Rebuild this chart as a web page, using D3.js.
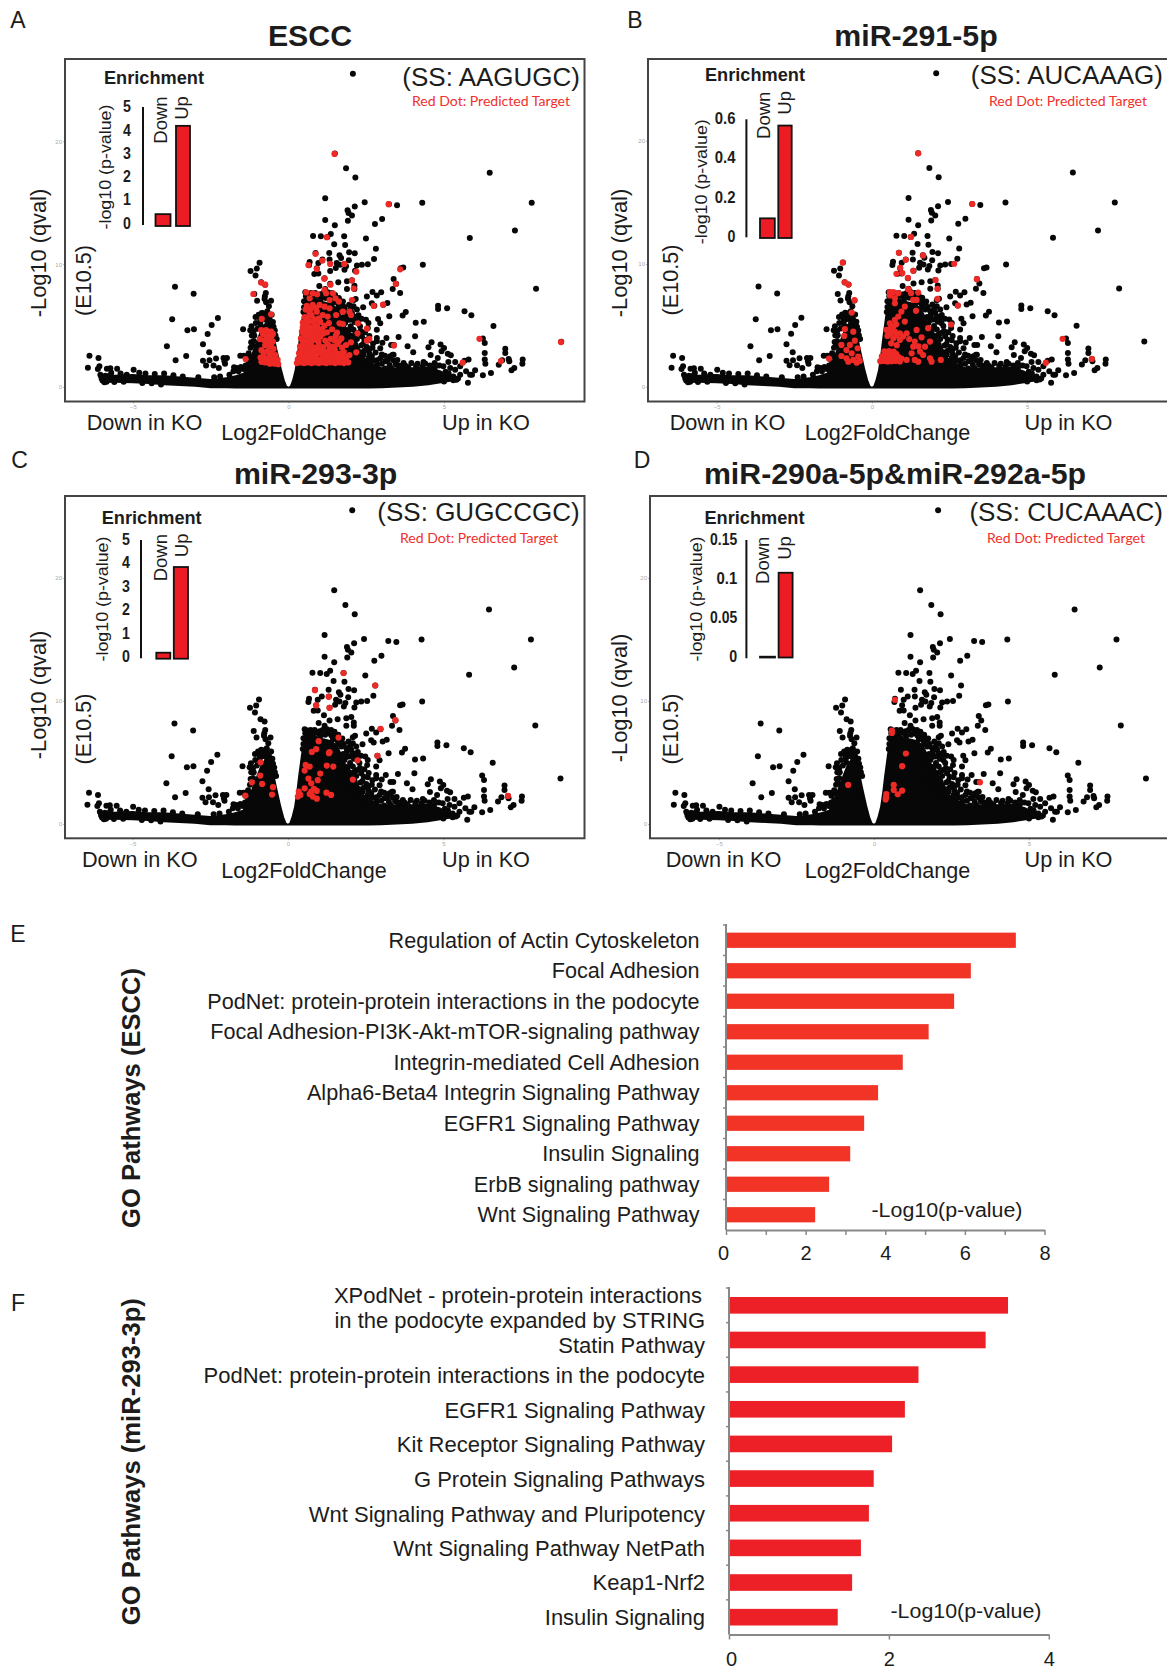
<!DOCTYPE html>
<html>
<head>
<meta charset="utf-8">
<script src="https://cdn.jsdelivr.net/npm/d3@7/dist/d3.min.js"></script>
<style>
body { margin: 0; background: #fff; }
text { font-family: "Liberation Sans", Arial, sans-serif; fill: #1c1c1c; }
</style>
</head>
<body>
<svg id="fig" width="1167" height="1670"></svg>
<script>
// dense part of the volcano (shared by the 4 panels)
var massLfc = [-6.1,-5.9,-5.6,-5,-4.5,-4,-3.5,-3,-2.5,-2,-1.7,-1.45,-1.3,-1.15,-1,-.86,-.7,-.55,-.45,-.37,-.3,-.22,-.12,-.05,0,.05,.12,.2,.27,.33,.42,.5,.62,.9,1.1,1.4,1.6,1.75,1.9,2.1,2.3,2.6,3,3.5,4,4.5,4.9,5.2,5.4];
var massTop = [.95,1.15,1,1.05,.95,.95,.85,.75,.65,.8,.95,1.15,1.9,3,4,4.9,5.4,5.3,4.2,3.2,2.4,1.5,.55,.1,.02,.1,.6,1.4,2.6,3.9,5.6,6.9,7.3,7.2,7,6.8,6.4,5.6,4.6,3.4,2.7,2.1,1.6,1.6,1.6,1.65,1.35,.9,.6];
var massBot = [.55,.32,.35,.3,.25,.15,.08,.03,-.1,-.1,-.12,-.12,-.12,-.12,-.12,-.12,-.12,-.12,-.12,-.12,-.12,-.12,-.12,-.12,-.12,-.12,-.12,-.12,-.12,-.12,-.12,-.12,-.12,-.12,-.12,-.12,-.12,-.12,-.12,-.12,-.12,-.12,-.1,-.05,.03,.15,.3,.42,.5];

// single genes, [log2 fold change, -log10 q]
var genes = [
[2.07,25.5],[1.49,19],[1.85,17.8],[2.15,17.05],[1.18,15.36],[2.45,15.04],[3.23,14.87],[3.49,14.79],[4.3,15],[2.13,14.69],[1.9,14.39],[1.93,14.17],[2.04,13.95],[1.18,13.6],[1.91,13.54],[1.49,13.16],[2.78,13.27],[3.01,13.68],
[.79,12.3],[1.04,12.27],[1.25,12.2],[1.36,12.46],[1.79,12.27],[2.49,12.08],[1.47,11.62],[1.82,11.56],[2.81,11.26],[.87,10.91],[1.31,10.91],[1.95,10.97],[2.13,10.88],[1.64,10.72],[1.69,10.5],[2.75,10.42],[1.09,10.37],[.96,10.1],[.68,10.18],[.66,9.91],[1.32,10.37],[1.94,10.31],[1.55,10.1],[1.66,9.96],[1.52,9.69],[.91,9.66],[1.34,9.45],[1.85,9.83],[1.8,9.55],[2.2,9.88],[2.36,9.96],[2.55,9.99],[2.14,9.47],[3.61,9.66],[3.69,9.72],
[.83,9.2],[.96,9.23],[1.16,8.85],[3.38,8.79],[3.46,8.41],[3.35,7.98],[3.59,7.65],[.99,8.22],[1.6,8.52],[1.34,8.41],[1.88,8.6],[2.04,8.69],[2.12,8.25],[1.88,7.98],[2.12,7.98],[2.7,7.74],[2.98,7.71],[2.52,7.36],[2.84,7.44],[1.63,7.03],[2.09,7.06],[2.16,7.17],[2.68,6.81],[2.76,6.62],[3.05,6.7],[3.18,6.84],[2.4,6.49],[2.09,6.57],
[2.88,5.54],[2.49,5.48],[3.24,5.75],[3.67,5.81],[3.77,6.11],[4.09,5.24],[4.35,5.32],[2.95,5.18],[2.24,5.18],[2.57,5.21],[2.55,4.8],[2.84,4.67],[3.54,4.07],[4.07,4.13],[2.23,4.4],[2.36,4.13],[2.57,3.8],[2.84,3.99],[2.84,3.72],[3.02,3.61],[3.3,3.42],[2.09,3.64],[2.34,3.37],[3.83,3.31],[4.01,2.82],[2.59,3.04],[2.68,2.5],[2.84,2.17],[3.35,2.63],[3.27,2.5],[3.11,2.09],
[.54,7.71],[.62,7.6],[.73,7.65],[.86,7.65],[.56,7.38],[.66,7.25],[.8,7.25],[.5,6.98],[1.18,7.98],[1.26,7.71],[1.39,7.65],[1.5,7.49],[1.31,7.38],[1.55,7.11],[1.71,6.84],[1.8,6.51],[1.88,6.16],[2.04,6.03],[2.09,5.75],[1.98,5.48],[1.82,5.21],[1.71,4.94],[1.84,4.67],[2.09,4.67],[2.04,4.13],[1.88,3.72],[1.98,3.31],[2.2,3.18],[2.14,2.77],[2.41,2.63],[2.57,2.36],[2.3,2.23],[2.47,1.95],
[1.95,6.7],[2,6.35],[1.72,6.3],[1.62,6.5],[1.9,5.85],[1.78,5.7],[1.68,5.55],[1.88,5.45],[2.2,6.3],[2.25,5.85],[2.35,5.55],[2.18,5.5],[2.12,5.3],[2.3,4.95],[2,4.95],[1.92,4.6],[1.76,4.4],[1.95,4.25],[2.14,4.25],[2.32,4.55],[2.46,4.45],[2.6,4.15],[2.44,3.85],[2.2,3.9],[2.05,3.75],[1.8,3.9],[1.72,3.6],[1.85,3.35],[2.15,3.45],[2.4,3.5],[2.52,3.25],[2.72,3.55],[2.7,3.2],[2.95,3.15],[1.78,3.1],[1.92,2.95],[2.04,2.6],[2.28,2.85],[2.44,2.95],[2.6,2.7],[2.8,2.8],[3,2.65],[2.2,2.45],[2.36,2.3],[2.72,2.15],[2.95,2.35],[3.1,2.55],[3.2,2.2],[3.38,2.15],[3.5,2.2],[2.6,1.95],[2.85,1.85],[3,1.9],[3.25,1.8],[3.45,1.85],[3.7,1.95],[3.95,1.95],[4.15,1.9],[3.75,1.75],[4.4,1.9],[4.7,1.95],[4.85,1.75],
[1.4,7.2],[1.62,7.25],[1.75,6.95],[1.45,6.9],[1.6,6.75],[1.2,7.25],[1.05,7.2],[.95,7.4],[.7,7.45],[1.02,7.55],[1.12,7.65],[1.45,7.3],[.5,6.5],[.48,6.1],
[6.47,17.43],[7.82,15],[7.28,12.73],[5.83,12.13],[4.32,9.96],[7.96,8],[4.81,6.62],[4.81,6.35],[5.1,6.41],[5.66,6.16],[5.88,5.84],[6.59,4.97],[8.77,3.69],[6.25,3.94],[6.31,3.58],[6.31,2.77],[6.31,2.23],[6.33,1.9],[6.97,3.12],[6.97,2.77],[6.87,2.17],[7.08,2.28],[6.76,1.82],[7.1,2.09],[7.53,2.23],[7.52,1.9],[7.26,1.55],[7.17,1.36],[6.51,1.14],[6.25,.95],[5.77,.35],[6,1.36],[5.9,1],
[3.15,3.99],[3.39,3.42],[4.6,3.64],[4.5,3.23],[4.89,3.45],[5,3.18],[4.92,2.9],[4.57,2.6],[4.8,2.36],[5.12,2.71],[5.22,2.58],[4.34,2.04],[3.38,2.63],[3.54,1.76],[5.14,2.04],[5.36,2.04],[5.66,2.14],[5.79,2.23],[4.98,1.68],[5.2,1.55],[5.52,1.68],[5.36,1.41],[5.71,1.28],[5.84,1],[5.52,1],[5.4,.6],[5.22,.73],
[-.93,10.12],[-1.02,9.64],[-1.22,9.45],[-1.06,9.07],[-.88,8.52],[-.75,8.33],[-1.1,7.57],[-.73,7.65],[-.76,7.38],[-.77,7.17],[-1.01,7.03],[-.56,7.03],[-.63,6.57],[-.68,6.16],[-.54,5.89],[-2.27,5.62],[-2.47,5.05],[-2.6,4.32],[-2.75,3.47],[-3.65,8.17],[-3.05,7.6],[-3.74,5.51],[-3.25,4.61],[-3.04,4.7],[-3.91,3.31],[-3.29,2.52],[-3.63,2.17],[-2.55,2.82],[-2.75,2.14],[-2.54,2.17],[-2.33,2.33],[-2.65,1.76],[-2.41,1.76],[-2.24,1.55],[-2.09,2.36],[-1.98,2.36],[-2.06,2.09],[-2.04,1.9],
[-6.4,2.55],[-6.11,2.36],[-6.45,1.57],[-6.08,1.68],[-6.13,1.47],[-5.84,1.49],[-5.73,1.52],[-5.51,1.49],[-4.98,1.41],[-6.05,1],[-5.95,.73],[-5.92,.38],[-1.46,4.7],[-1.19,4.94],[-1.23,4.61],[-1.06,5.7],[-.96,5.89],[-.86,6.03],[-1.55,2.55],[-1.43,2.55],[-1.29,2.58],[-1.37,2.3],[-1.75,1.6],[-1.66,1.55],[-1.53,1.63],[-1.45,1.47],[-1.77,1.28],[-1.61,1.28],[-2.39,.79],[-1.16,3.37],[-.89,3.91],[-.89,5],[-.83,3.23],[-.47,2.99],[-.51,2.36],
[-1.05,5.2],[-.9,5.35],[-.75,5.5],[-.6,5.45],[-.48,4.9],[-.42,4.2],[-1.1,4.2],[-1.22,3.2],[-1.18,4.2],[-1.12,4.55],[-1,4.75],[-.92,5.6],[-.8,5.75],[-.72,5.85],[-.62,5.7],[-.5,5.3],[-.44,4.6],[-.38,3.9],[-1.28,2.75],[-1.2,2.4],[-1.38,1.75],[-1.28,1.95],[-1.2,3.65],[-1.12,3.75],[-.66,5.2],[-.82,6],[-.72,6.9],
[-5.7,1.15],[-5.4,1.1],[-5.2,1],[-4.8,1.15],[-4.6,1.1],[-4.3,1.05],[-4,1.1],[-3.7,.95],[-3.4,.85],[-2.9,.8],[-2.2,.85],[-1.9,1],[-5.6,.4],[-5.3,.42],[-4.7,.32],[-6.02,.85],[-5.98,.52],[-5.85,.42],[-5.75,.9],[-4.4,.3],[-4.1,.2],
[2.75,1.6],[3.1,1.5],[3.3,1.55],[3.6,1.7],[3.85,1.6],[4.1,1.7],[4.3,1.65],[4.55,1.75],[4.7,1.55],[5.05,1.25],[5.15,1.1],[5.3,.85],[5.45,.7],[5,.45],[5.3,.55]
];

// predicted targets (red dots) of every panel
var redA = [
[1.48,18.97],[3.22,14.88],[1.23,12.19],[.87,10.83],[1.09,10.29],[.64,9.93],[.91,9.61],[1.34,10.02],[1.79,10.02],[2.18,9.39],[1.15,8.82],[1.35,8.33],[2.04,8.66],[2.1,8.01],[2.04,7.08],[3.59,9.58],[3.45,8.39],[2.74,6.6],[3.04,6.7],[2.23,5.18],[2.52,4.75],[2.22,4.37],[2.52,3.77],[2.6,3.91],[3.39,3.37],[2.18,2.82],[1.96,2.6],[1.85,3.42],[2.01,3.64],[1.8,2.47],
[-.88,8.5],[-.75,8.33],[-1.13,7.57],[-.56,5.92],[-.86,5.54],[-1.38,2.28],[-.88,4.64],[-.72,4.64],[-.56,4.5],[-.82,4.32],[-.63,4.23],[-.5,4.32],[-.92,3.9],[-.78,3.8],[-.64,3.85],[-.5,3.7],[-.75,3.4],[-.62,3.3],[-.48,3.1],[-.87,3],[-.68,2.9],[-.55,2.75],[-.42,2.6],[-.8,2.5],[-.62,2.3],[-.5,2.2],[-.35,2.2],[-.87,2.05],[-.75,2],[-.6,1.9],[-.45,1.9],[-.33,1.85],[-.7,4.1],[-.56,4.05],[-.7,3.6],[-.56,3.5],[-.8,2.8],[-.6,2.6],[-.72,2.3],[-.9,2.4],
[.57,7.7],[.78,7.63],[.92,7.55],[1.16,7.9],[1.21,7.63],[1.43,7.63],[1.51,7.22],[1.62,6.95],[1.32,7.08],[.68,7.22],[.59,6.6],[.78,6.68],[1,6.68],[1.16,6.54],[1.32,6.41],[.91,6.13],[.68,6],[1.1,5.86],[.98,5.59],[1.26,5.73],[1.53,5.86],[1.75,6.13],[1.96,6.13],[2.01,5.86],[1.64,5.18],[1.75,5.13],
[.52,5.7],[.62,5.65],[.74,5.85],[.85,5.5],[.55,6.3],[.72,6.35],[.88,6.45],
[.46,5.25],[.6,5],[.74,5.35],[.86,5.05],[1.02,5.3],[1.16,5],[1.3,5.2],[.43,4.5],[.55,4.75],[.68,4.45],[.82,4.7],[.94,4.4],[1.08,4.72],[1.24,4.45],[1.4,4.7],[1.56,4.42],
[.4,3.95],[.52,4.2],[.64,3.9],[.78,4.15],[.9,3.85],[1.02,4.1],[1.36,3.92],[1.52,4.18],[1.7,3.95],[.37,3.3],[.48,3.55],[.6,3.25],[.72,3.5],[.85,3.2],[.97,3.45],[1.12,3.25],[1.26,3.5],[1.42,3.28],[1.58,3.5],[1.72,3.2],
[.34,2.75],[.45,2.95],[.57,2.7],[.69,2.9],[.81,2.65],[.94,2.9],[1.06,2.7],[1.2,2.85],[1.34,2.65],[1.5,2.9],[1.64,2.7],[1.78,2.85],[.3,2.25],[.41,2.4],[.53,2.2],[.65,2.35],[.77,2.15],[.9,2.35],[1.02,2.2],[1.15,2.35],[1.28,2.15],[1.42,2.3],[1.57,2.2],[1.7,2.4],[1.85,2.2],
[.27,1.95],[.38,2],[.5,1.95],[.62,2],[.74,1.95],[.86,2],[.98,1.95],[1.12,2],[1.22,1.95],[1.36,2],[1.5,1.95],[1.64,2],[1.78,1.95],[1.92,2],
[.46,4.85],[.58,5.35],[.7,4.85],[.92,4.9],[.5,4.4],[.62,4.3],[.76,4.4],[.88,4.28],[1.0,4.5],[1.12,4.35],[.46,3.75],[.58,3.72],[.7,3.75],[.82,3.85],[.96,3.72],[1.18,3.78],[1.48,3.8],[1.62,3.72],
[.42,3.15],[.55,3],[.68,3.1],[.78,2.95],[.92,3.15],[1.05,3],[1.32,3.08],[1.48,3.12],[.4,2.55],[.52,2.5],[.64,2.62],[.75,2.45],[.88,2.6],[1.12,2.6],[1.24,2.52],[1.4,2.55],[1.55,2.5],[1.72,2.62],[.36,2.1],[.6,2.15],[.84,2.15],[1.08,2.15],[1.34,2.15],[1.62,2.2],
[5.6,1.98],[6.14,3.92],[6.83,2.11],[8.76,3.66]
];
var redB = [
[1.49,19],[3.23,14.88],[1.26,12.2],[.87,10.91],[1.09,10.34],[1.65,10.7],[2.65,10.02],[.91,9.69],[.79,9.2],[.98,9.26],[1.16,8.88],[1.33,9.45],[2.05,8.69],[2.11,7.98],[2.11,7.17],[3.38,8.77],[2.77,6.62],[2.55,5.08],[1.81,4.78],[1.42,6.19],
[-.94,10.12],[-.87,8.5],[-.76,8.33],[-.56,7.06],[-.65,6.05],[-1.38,2.31],[-.87,4.7],[-.6,4.5],[-.89,4.15],[-.55,3.77],[-.71,3.42],[-.98,3.42],[-.46,3.15],[-.82,3],[-.65,2.74],[-.98,2.52],[-.44,2.47],[-.82,2.33],[-.6,2.2],[-.39,2.12],[-.76,2.06],[-.49,1.98],
[.58,7.71],[.69,7.71],[.85,7.63],[.58,7.44],[.74,7.22],[.74,6.81],[1.17,7.95],[1.26,7.63],[1.49,7.68],[1.33,7.08],[1.44,7.08],[1.06,6.54],[.95,6.13],[.85,5.73],[.74,5.46],[.69,4.91],[1.06,5.32],[.58,5.18],[.58,4.64],[.47,4.64],[.74,4.5],[.9,4.37],[.5,4.15],[.69,3.96],[.9,3.83],[1.12,4.37],[1.44,4.64],[1.6,4.04],[1.87,3.69],[1.38,3.69],[1.71,3.28],[1.33,3.28],
[.4,2.9],[.55,2.92],[.7,2.88],[.32,2.5],[.45,2.52],[.58,2.48],[.72,2.5],[.85,2.46],[.27,2.1],[.38,2.12],[.5,2.08],[.62,2.1],[.75,2.12],[.9,2.08],[1.12,2.2],[1.28,2.74],[1.38,2.2],[1.55,2.88],[1.65,2.6],[1.87,2.33],[1.49,2.06],[1.92,2.06],[2.22,2.2],
[.48,2.75],[.62,2.72],[.78,2.7],[.38,2.32],[.52,2.3],[.66,2.32],[.8,2.28],[.95,2.3],[.6,4.3],[.8,4.2],[.62,4.85],[.78,5.1],[.62,3.55],[.8,3.4],[1.0,4.1],[1.2,3.9],[1.5,3.3],
[5.6,1.98],[6.14,3.92],[7.08,2.28]
];
var redC = [
[1.79,12.27],[2.81,11.26],[.87,10.88],[1.31,10.34],[.91,9.64],[1.34,9.45],[3.46,8.44],[2.98,7.74],[1.63,7.03],[.99,6.73],[.91,6.08],[.77,5.86],[1.34,5.84],[1.32,5.76],[2.24,5.18],[2.88,5.54],[.57,4.8],[.7,4.67],[.54,4.34],[1.25,4.75],[1.46,4.67],[1.04,4.1],[.66,3.69],[.96,3.56],[.75,3.31],[2.09,3.61],[.54,2.9],[.84,2.85],[.75,2.63],[.93,2.69],[.35,2.63],[.32,2.23],[.4,2.36],[.7,2.44],[.8,2.23],[.93,2.06],[1.24,2.55],[1.39,2.36],
[-.88,5.02],[-.89,3.94],[-1.16,3.39],[-.83,3.26],[-.48,2.99],[-.51,2.39],[-1.37,2.31],[7.08,2.28]
];
var redD = [[.68,10.1],[.58,7.6],[.58,7.4],[1.03,5.73],[.91,4.7],[.64,3.18],[.91,2.71],[.77,2.42],[.64,2.77],[.4,2.44],[.39,2.17],[.38,2],[3.42,3.39],[-.83,3.18]];

// inset bars
var enrichLabels = ["Down", "Up"];
var enrichA = [.38, 4.17];
var enrichB = [.09, .563];
var enrichC = [.17, 3.81];
var enrichD = [0, .107];

// pathway bars
var goEscc = ["Regulation of Actin Cytoskeleton","Focal Adhesion","PodNet: protein-protein interactions in the podocyte","Focal Adhesion-PI3K-Akt-mTOR-signaling pathway","Integrin-mediated Cell Adhesion","Alpha6-Beta4 Integrin Signaling Pathway","EGFR1 Signaling Pathway","Insulin Signaling","ErbB signaling pathway","Wnt Signaling Pathway"];
var goEsccVal = [7.28,6.15,5.73,5.09,4.44,3.82,3.47,3.12,2.59,2.24];
var goMir = ["XPodNet - protein-protein interactions","Statin Pathway","PodNet: protein-protein interactions in the podocyte","EGFR1 Signaling Pathway","Kit Receptor Signaling Pathway","G Protein Signaling Pathways","Wnt Signaling Pathway and Pluripotency","Wnt Signaling Pathway NetPath","Keap1-Nrf2","Insulin Signaling"];
var goMirVal = [3.49,3.21,2.37,2.2,2.04,1.81,1.75,1.65,1.54,1.36];

var svg = d3.select("#fig");
var RED = "#ee2a26";

function label(txt, x, y, size, opt) {
	opt = opt || {};
	var t = svg.append("text")
		.attr("x", x)
		.attr("y", y)
		.attr("dy", "0.35em")
		.attr("text-anchor", opt.anchor || "middle")
		.attr("font-size", size)
		.attr("font-weight", opt.bold ? "bold" : "normal")
		.text(txt);
	if (opt.rotate) t.attr("transform", "rotate(-90 " + x + " " + y + ")");
	if (opt.fill) t.style("fill", opt.fill);
	if (opt.family) t.style("font-family", opt.family);
	if (opt.len) t.attr("textLength", opt.len).attr("lengthAdjust", "spacingAndGlyphs");
	return t;
}

// one volcano panel
function volcano(p) {
	var x = d3.scaleLinear().domain([-5, 5]).range([p.xm5, p.xp5]);
	var y = d3.scaleLinear().domain([0, 20]).range([p.y0, p.y20]);
	var g = svg.append("g");

	var area = d3.area()
		.x(function(d) { return x(d); })
		.y0(function(d, i) { return y(massBot[i]); })
		.y1(function(d, i) { return y(massTop[i]); });
	g.append("path").attr("d", area(massLfc)).attr("fill", "#070707");

	g.append("g")
		.selectAll("circle")
		.data(genes)
		.enter()
		.append("circle")
		.attr("cx", function(d) { return x(d[0]); })
		.attr("cy", function(d) { return y(d[1]); })
		.attr("r", 3)
		.attr("fill", "#070707");

	g.append("g")
		.selectAll("circle")
		.data(p.red)
		.enter()
		.append("circle")
		.attr("cx", function(d) { return x(d[0]); })
		.attr("cy", function(d) { return y(d[1]); })
		.attr("r", 3.1)
		.attr("fill", RED);

	// tiny grey ticks of the original plot
	var ax = g.append("g")
		.attr("transform", "translate(0," + p.bottom + ")")
		.call(d3.axisBottom(x).tickValues([-5, 0, 5]).tickSize(2).tickPadding(1));
	var ay = g.append("g")
		.attr("transform", "translate(" + p.left + ",0)")
		.call(d3.axisLeft(y).tickValues([0, 10, 20]).tickSize(2).tickPadding(1));
	[ax, ay].forEach(function(a) {
		a.select(".domain").remove();
		a.selectAll("line").attr("stroke", "#bbb");
		a.selectAll("text").attr("font-size", 6).style("fill", "#aaa");
	});

	g.append("rect")
		.attr("x", p.left)
		.attr("y", p.top)
		.attr("width", p.right - p.left)
		.attr("height", p.bottom - p.top)
		.attr("fill", "none")
		.attr("stroke", "#444")
		.attr("stroke-width", 2);

	label(p.letter, p.letterX, p.letterY, 23);
	label(p.title, p.titleX, p.titleY, 30.3, {bold: true});
	label(p.ss, p.ssRight, p.ssY, 26, {anchor: "end"});
	label("Red Dot: Predicted Target", p.redX, p.redY, 14, {fill: "#f0302c", family: "Lato", len: 158});
	label("-Log10 (qval)", p.qvalX, p.qvalY, 21.8, {rotate: true});
	label("(E10.5)", p.stageX, p.stageY, 21.6, {rotate: true});
	label("Down in KO", p.downX, p.koY, 21.7);
	label("Up in KO", p.upX, p.koY, 21.7);
	label("Log2FoldChange", p.xLabX, p.xLabY, 21.6);

	// enrichment inset
	var q = p.inset;
	var iy = d3.scaleLinear().domain([0, q.max]).range([q.y0, q.yMax]);
	label("Enrichment", q.titleX, q.titleY, 19, {bold: true, len: 100});
	label("-log10 (p-value)", q.pX, q.pY, 17, {rotate: true, len: 125});
	g.append("line")
		.attr("x1", q.axisX).attr("x2", q.axisX)
		.attr("y1", q.axisTop).attr("y2", q.axisBot)
		.attr("stroke", "#111").attr("stroke-width", 2);
	q.ticks.forEach(function(t) {
		var s = String(t);
		label(s, q.tickRight, iy(t), 16.5, {anchor: "end", bold: true, len: 6.4 * s.length + 1.5});
	});
	var bars = g.append("g");
	bars.selectAll("rect")
		.data(q.values)
		.enter()
		.append("rect")
		.attr("x", function(d, i) { return q.barX[i]; })
		.attr("width", function(d, i) { return q.barW[i]; })
		.attr("y", function(d) { return iy(d); })
		.attr("height", function(d) { return q.barBot - iy(d); })
		.attr("fill", "#ed1c24")
		.attr("stroke", "#111")
		.attr("stroke-width", 1.8);
	enrichLabels.forEach(function(n, i) {
		label(n, q.nameX[i], q.nameY[i], 18.5, {rotate: true});
	});
}

var panels = [
	{letter: "A", letterX: 18, letterY: 20, title: "ESCC", titleX: 310, titleY: 35, ss: "(SS: AAGUGC)", ssRight: 580, ssY: 76.5, redX: 491, redY: 100.7, red: redA,
	 left: 65, right: 584.5, top: 59, bottom: 401.5, xm5: 133, xp5: 444, y0: 387, y20: 141.3,
	 qvalX: 38.4, qvalY: 253, stageX: 83, stageY: 280.5, downX: 144.5, upX: 486, koY: 422.5, xLabX: 304, xLabY: 432.5,
	 inset: {max: 5, ticks: [0,1,2,3,4,5], values: enrichA, y0: 223, yMax: 106.5, titleX: 154, titleY: 77, pX: 104.6, pY: 167, axisX: 143, axisTop: 107, axisBot: 225, tickRight: 131, barX: [155.5,176], barW: [15,14], barBot: 226, nameX: [161,182], nameY: [120,108]}},
	{letter: "B", letterX: 635, letterY: 20, title: "miR-291-5p", titleX: 916, titleY: 35.5, ss: "(SS: AUCAAAG)", ssRight: 1163, ssY: 75, redX: 1068, redY: 100.7, red: redB,
	 left: 648, right: 1172, top: 59, bottom: 401.5, xm5: 716.6, xp5: 1027.2, y0: 387, y20: 141,
	 qvalX: 619.4, qvalY: 253, stageX: 670, stageY: 280, downX: 727.5, upX: 1068.5, koY: 422.5, xLabX: 887.5, xLabY: 432.5,
	 inset: {max: .6, ticks: [0,.2,.4,.6], values: enrichB, y0: 236, yMax: 118.3, titleX: 755, titleY: 74, pX: 701.5, pY: 181.7, axisX: 746.4, axisTop: 119.3, axisBot: 237.3, tickRight: 735.5, barX: [760,778.3], barW: [14.8,13.4], barBot: 238, nameX: [763.7,785], nameY: [115.3,102.8]}},
	{letter: "C", letterX: 19.5, letterY: 460, title: "miR-293-3p", titleX: 315.6, titleY: 473, ss: "(SS: GUGCCGC)", ssRight: 579.6, ssY: 511.7, redX: 479, redY: 538.3, red: redC,
	 left: 65, right: 584.5, top: 496, bottom: 838.3, xm5: 132.5, xp5: 443.3, y0: 824, y20: 578,
	 qvalX: 38.4, qvalY: 695, stageX: 83, stageY: 729, downX: 139.8, upX: 486, koY: 859.3, xLabX: 304, xLabY: 870,
	 inset: {max: 5, ticks: [0,1,2,3,4,5], values: enrichC, y0: 656.7, yMax: 539, titleX: 151.7, titleY: 517.3, pX: 102.4, pY: 599, axisX: 141, axisTop: 540, axisBot: 658.3, tickRight: 130, barX: [156.3,173.8], barW: [14,14.2], barBot: 658.7, nameX: [161,181.8], nameY: [557.7,545.3]}},
	{letter: "D", letterX: 642, letterY: 460, title: "miR-290a-5p&miR-292a-5p", titleX: 895, titleY: 473, ss: "(SS: CUCAAAC)", ssRight: 1163, ssY: 511.7, redX: 1066, redY: 538.3, red: redD,
	 left: 650, right: 1172, top: 496, bottom: 838.3, xm5: 718.8, xp5: 1029, y0: 824, y20: 578,
	 qvalX: 619.4, qvalY: 698, stageX: 670, stageY: 729, downX: 723.5, upX: 1068.5, koY: 859.3, xLabX: 887.5, xLabY: 870,
	 inset: {max: .15, ticks: [0,.05,.1,.15], values: enrichD, y0: 656.7, yMax: 539, titleX: 754.5, titleY: 517.3, pX: 696, pY: 599, axisX: 746.4, axisTop: 540, axisBot: 658.3, tickRight: 737.2, barX: [760,778.6], barW: [15,14], barBot: 657.5, nameX: [763,785], nameY: [560.3,548]}}
];
panels.forEach(volcano);

// horizontal pathway bars
function pathways(p) {
	var x = d3.scaleLinear().domain([0, p.max]).range([p.x0, p.x1]);
	var y = d3.scaleBand().domain(p.names).range([p.yTop, p.yBot]).paddingInner(p.pad).paddingOuter(p.pad / 2);
	var g = svg.append("g");

	g.selectAll("rect")
		.data(p.values)
		.enter()
		.append("rect")
		.attr("x", p.x0)
		.attr("y", function(d, i) { return y(p.names[i]); })
		.attr("width", function(d) { return x(d) - p.x0; })
		.attr("height", y.bandwidth())
		.attr("fill", p.color);

	// separators on the category axis
	g.selectAll("line.sep")
		.data(p.names)
		.enter()
		.append("line")
		.attr("class", "sep")
		.attr("x1", p.x0 - 3)
		.attr("x2", p.x0)
		.attr("y1", function(d) { return y(d) - y.step() * p.pad / 2; })
		.attr("y2", function(d) { return y(d) - y.step() * p.pad / 2; })
		.attr("stroke", "#888")
		.attr("stroke-width", 1.5);

	g.append("line")
		.attr("x1", p.x0).attr("x2", p.x0)
		.attr("y1", p.yTop - 1).attr("y2", p.yBot)
		.attr("stroke", "#888").attr("stroke-width", 2);

	var ax = g.append("g")
		.attr("transform", "translate(0," + p.yBot + ")")
		.call(d3.axisBottom(x)
			.tickValues(p.ticks)
			.tickSize(5)
			.tickPadding(p.tickPad)
			.tickSizeOuter(0)
			.tickFormat(function(d) { return d % 2 == 0 ? d : ""; }));
	ax.select(".domain").attr("stroke", "#888").attr("stroke-width", 2);
	ax.selectAll("line").attr("stroke", "#888").attr("stroke-width", 1.5);
	ax.selectAll("text").attr("font-size", 20).attr("font-family", null).style("fill", "#1c1c1c");
	ax.selectAll("text").filter(function(d) { return d == 0; }).attr("dx", p.zeroDx);

	p.names.forEach(function(n, i) {
		label(n, p.labelRight[i] || p.labelRight[1], p.labelY ? p.labelY[i] : y(n) + y.bandwidth() / 2, p.font, {anchor: "end"});
	});
	label(p.xTitle, p.xTitleX, p.xTitleY, 20, {len: 151});
	label(p.side, 131, p.sideY, 26.5, {rotate: true, bold: true, len: p.sideLen});
	label(p.letter, 18, p.letterY, 23);
}

pathways({letter: "E", letterY: 934, names: goEscc, values: goEsccVal, max: 8, x0: 726, x1: 1044.5, yTop: 925, yBot: 1230, pad: .5, color: "#f13426",
	ticks: [0,1,2,3,4,5,6,7,8], tickPad: 11, zeroDx: -3, font: 21.6, labelRight: [699.5,699.5],
	xTitle: "-Log10(p-value)", xTitleX: 947, xTitleY: 1210, side: "GO Pathways (ESCC)", sideY: 1098, sideLen: 260});
pathways({letter: "F", letterY: 1303, names: goMir, values: goMirVal, max: 4, x0: 729, x1: 1048.8, yTop: 1288, yBot: 1634.5, pad: .52, color: "#ee2027",
	ticks: [0,2,4], tickPad: 12, zeroDx: 2, font: 22, labelRight: [702,705], labelY: [1295,1345,1375.7,1410,1444.7,1479,1514.3,1548,1582.7,1617.3],
	xTitle: "-Log10(p-value)", xTitleX: 966, xTitleY: 1610.7, side: "GO Pathways (miR-293-3p)", sideY: 1461.7, sideLen: 327});
// second line of the first label in F
label("in the podocyte expanded by STRING", 705, 1320.7, 22, {anchor: "end"});
</script>
</body>
</html>
